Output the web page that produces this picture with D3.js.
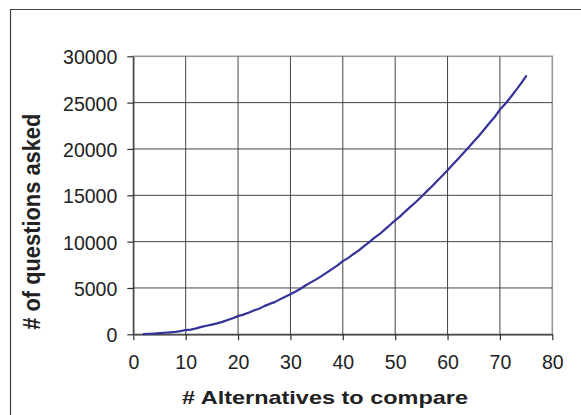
<!DOCTYPE html>
<html>
<head>
<meta charset="utf-8">
<script src="https://cdn.jsdelivr.net/npm/d3@7"></script>
<style>
  html, body { margin: 0; padding: 0; background: #fff; }
  svg { display: block; }
</style>
</head>
<body>
<svg id="chart" width="581" height="415"></svg>
<script>
// ---- data ----
const alternatives = [2,3,4,5,6,7,8,9,10,11,12,13,14,15,16,17,18,19,20,21,22,23,24,25,26,27,28,29,30,31,32,33,34,35,36,37,38,39,40,41,42,43,44,45,46,47,48,49,50,51,52,53,54,55,56,57,58,59,60,61,62,63,64,65,66,67,68,69,70,71,72,73,74,75];
const questionsAsked = [10,40,80,120,170,210,260,340,460,500,640,800,920,1040,1180,1340,1550,1740,1960,2120,2330,2560,2760,3040,3280,3470,3770,4060,4320,4620,4940,5320,5630,5950,6300,6680,7060,7440,7900,8220,8640,9030,9480,9920,10400,10800,11300,11800,12300,12750,13300,13800,14300,14850,15420,15950,16550,17120,17700,18320,18920,19540,20150,20800,21420,22100,22800,23450,24250,24850,25560,26300,27050,27850];
const xTicks = [0,10,20,30,40,50,60,70,80];
const yTicks = [0,5000,10000,15000,20000,25000,30000];
const xTitle = "# Alternatives to compare";
const yTitle = "# of questions asked";

(function () {
const svg = d3.select("#chart");
const pL = 133.3, pR = 552.3, pT = 56.3, pB = 334.3;

const x = d3.scaleLinear().domain([0, 80]).range([pL, pR]);
const y = d3.scaleLinear().domain([0, 30000]).range([pB, pT]);

// outer frame (only left and top visible)
svg.append("path")
  .attr("d", `M10.5,415 L10.5,9.5 L581,9.5`)
  .attr("fill", "none").attr("stroke", "#444").attr("stroke-width", 1.2);

// plot area background and border
svg.append("rect")
  .attr("x", pL).attr("y", pT)
  .attr("width", pR - pL).attr("height", pB - pT)
  .attr("fill", "#fff").attr("stroke", "#999").attr("stroke-width", 1.6);

// gridlines
const grid = svg.append("g").attr("stroke", "#444").attr("stroke-width", 1);
grid.selectAll("line.v").data(xTicks.filter(d => d > 0 && d < 80)).join("line")
  .attr("class", "v")
  .attr("x1", d => x(d)).attr("x2", d => x(d))
  .attr("y1", pT).attr("y2", pB);
grid.selectAll("line.h").data(yTicks.filter(d => d > 0 && d < 30000)).join("line")
  .attr("class", "h")
  .attr("x1", pL).attr("x2", pR)
  .attr("y1", d => y(d)).attr("y2", d => y(d));

// axes
const xAxis = d3.axisBottom(x).tickValues(xTicks).tickFormat(d3.format("d"))
  .tickSize(6).tickPadding(14).tickSizeOuter(0);
const yAxis = d3.axisLeft(y).tickValues(yTicks).tickFormat(d3.format("d"))
  .tickSize(6).tickPadding(10).tickSizeOuter(0);

const gx = svg.append("g").attr("transform", `translate(0,${pB})`).call(xAxis);
const gy = svg.append("g").attr("transform", `translate(${pL},0)`).call(yAxis);

[gx, gy].forEach(g => {
  g.select(".domain").attr("stroke", "#333").attr("stroke-width", 1.2);
  g.selectAll(".tick line").attr("stroke", "#333").attr("stroke-width", 1.2);
  g.selectAll(".tick text")
    .attr("fill", "#222")
    .style("font-family", "'Liberation Sans', Arial, sans-serif")
    .style("font-size", "19.5px");
});
gx.selectAll(".tick text").attr("dy", null).attr("y", 35);
gy.selectAll(".tick text").attr("dy", null).attr("y", 7.5).attr("x", -16);

// data line
const line = d3.line()
  .x((d, i) => x(alternatives[i]))
  .y(d => y(d));

svg.append("path")
  .datum(questionsAsked)
  .attr("d", line)
  .attr("fill", "none")
  .attr("stroke", "#333399")
  .attr("stroke-width", 2.2)
  .attr("stroke-linejoin", "round")
  .attr("stroke-linecap", "round");

// axis titles
svg.append("text")
  .attr("x", 182).attr("y", 404)
  .attr("textLength", 286).attr("lengthAdjust", "spacingAndGlyphs")
  .style("font-family", "'Liberation Sans', Arial, sans-serif")
  .style("font-size", "19px").style("font-weight", "bold")
  .attr("fill", "#222")
  .text(xTitle);

svg.append("text")
  .attr("transform", "translate(40,221.7) rotate(-90) scale(1,1.12)")
  .attr("text-anchor", "middle")
  .attr("textLength", 216).attr("lengthAdjust", "spacingAndGlyphs")
  .style("font-family", "'Liberation Sans', Arial, sans-serif")
  .style("font-size", "21px").style("font-weight", "bold")
  .attr("fill", "#222")
  .text(yTitle);
})();
</script>
</body>
</html>
